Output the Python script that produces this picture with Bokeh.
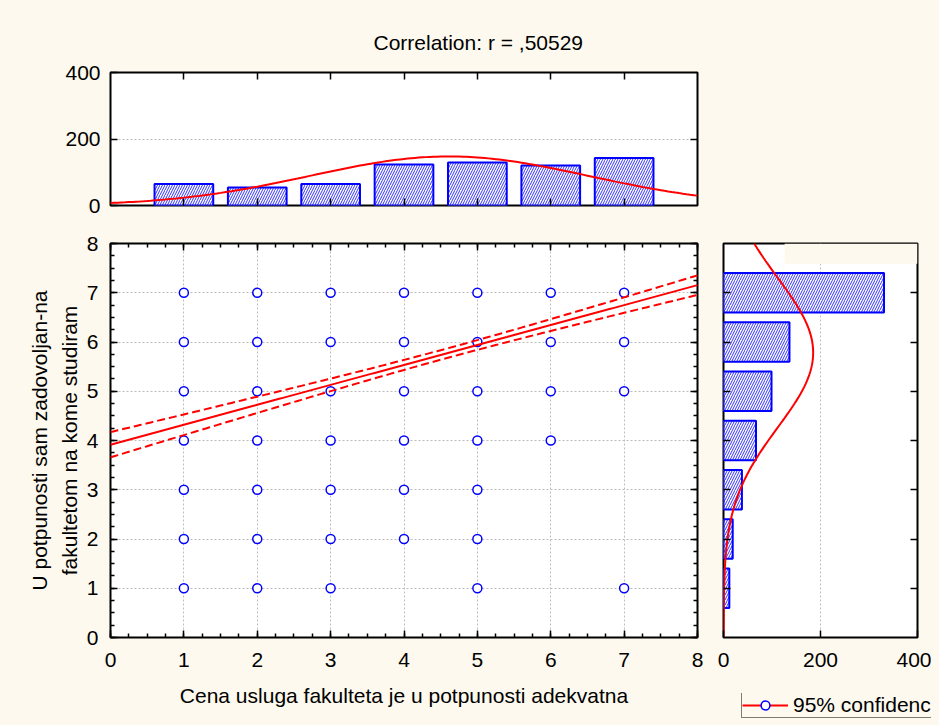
import numpy as np
from bokeh.plotting import figure
from bokeh.models import (Range1d, LinearAxis, FixedTicker, SingleIntervalTicker,
                          BoxAnnotation, Legend, LegendItem)
from bokeh.layouts import column, row
from bokeh.embed import file_html
from bokeh.resources import INLINE

# ---------------- data ----------------
title_text = "Correlation: r = ,50529"
x_label = "Cena usluga fakulteta je u potpunosti adekvatna"
y_label = "U potpunosti sam zadovoljan-na\nfakultetom na kome studiram"
legend_label = "95% confidence"
r_value = 0.50529

scale_values = [1, 2, 3, 4, 5, 6, 7]
x_counts = [65, 54, 65, 123, 129, 120, 143]      # histogram of x (top)
y_counts = [12, 19, 38, 67, 99, 136, 331]        # histogram of y (right)

points_x = [1, 2, 3, 4, 5, 6, 7,
            1, 2, 3, 4, 5, 6, 7,
            1, 2, 3, 4, 5, 6, 7,
            1, 2, 3, 4, 5, 6,
            1, 2, 3, 4, 5,
            1, 2, 3, 4, 5,
            1, 2, 3, 5, 7]
points_y = [7, 7, 7, 7, 7, 7, 7,
            6, 6, 6, 6, 6, 6, 6,
            5, 5, 5, 5, 5, 5, 5,
            4, 4, 4, 4, 4, 4,
            3, 3, 3, 3, 3,
            2, 2, 2, 2, 2,
            1, 1, 1, 1, 1]

# ---------------- derived fits ----------------
v = np.array(scale_values, dtype=float)
cx = np.array(x_counts, dtype=float)
cy = np.array(y_counts, dtype=float)
nx, ny = cx.sum(), cy.sum()
mx = (v * cx).sum() / nx
sx = np.sqrt((cx * (v - mx) ** 2).sum() / nx)
my = (v * cy).sum() / ny
sy = np.sqrt((cy * (v - my) ** 2).sum() / ny)

grid = np.linspace(0, 8, 161)
norm_top = nx / (sx * np.sqrt(2 * np.pi)) * np.exp(-0.5 * ((grid - mx) / sx) ** 2)
norm_right = ny / (sy * np.sqrt(2 * np.pi)) * np.exp(-0.5 * ((grid - my) / sy) ** 2)

slope = r_value * sy / sx
intercept = my - slope * mx
fit = intercept + slope * grid
resid_sd = sy * np.sqrt(1 - r_value ** 2) * np.sqrt(nx / (nx - 2))
sxx = nx * sx ** 2
half = 1.96 * resid_sd * np.sqrt(1.0 / nx + (grid - mx) ** 2 / sxx)
ci_hi = fit + half
ci_lo = fit - half

# ---------------- style ----------------
CREAM = "#FDF9EE"
BLUE = "#0000FF"
RED = "#FF0000"
FONT = "Liberation Sans"
FS = "21px"
GRID = "#BDBDBD"


def style_axis(ax, labels=True, minor=False):
    ax.major_tick_in = 7
    ax.major_tick_out = 0
    ax.minor_tick_in = 4 if minor else 0
    ax.minor_tick_out = 0
    ax.major_tick_line_color = "black"
    ax.major_tick_line_width = 1.5
    ax.minor_tick_line_color = "black" if minor else None
    ax.minor_tick_line_width = 1.5
    ax.axis_line_color = None
    ax.major_label_text_font = FONT
    if labels:
        ax.major_label_text_font_size = FS
        ax.major_label_text_color = "black"
    else:
        ax.major_label_text_font_size = "1px"
        ax.major_label_text_color = None
        ax.major_label_standoff = 0


def base_fig(**kw):
    return figure(output_backend="svg", toolbar_location=None,
                  border_fill_color=CREAM, background_fill_color="white",
                  outline_line_color="black", outline_line_width=2, **kw)


x_rng = Range1d(0, 8)
y_rng = Range1d(0, 8)

# ---------------- top histogram ----------------
top = base_fig(width=710, height=215, x_range=x_rng, y_range=Range1d(0, 400),
               min_border_left=110, min_border_right=13,
               min_border_top=72, min_border_bottom=10, title=title_text)
top.title.align = "left"
top.title.offset = 263
top.title.standoff = 38
top.title.text_font = FONT
top.title.text_font_size = FS
top.title.text_font_style = "normal"
top.title.text_color = "black"
top.xaxis.ticker = FixedTicker(ticks=scale_values)
style_axis(top.xaxis[0], labels=False)
top.yaxis.ticker = FixedTicker(ticks=[0, 200, 400])
style_axis(top.yaxis[0], labels=True)
top.yaxis.major_label_standoff = 10
ax = LinearAxis(ticker=FixedTicker(ticks=scale_values))
style_axis(ax, labels=False)
top.add_layout(ax, "above")
ax = LinearAxis(ticker=FixedTicker(ticks=[200]))
style_axis(ax, labels=False)
top.add_layout(ax, "right")
top.xgrid.visible = False
top.ygrid.ticker = FixedTicker(ticks=[200])
top.ygrid.grid_line_color = GRID
top.ygrid.grid_line_dash = "2 2"

top.vbar(x=scale_values, top=x_counts, width=0.8, bottom=0,
         fill_color="white", hatch_pattern="/", hatch_color=BLUE,
         hatch_scale=5, hatch_weight=1, hatch_alpha=0.8,
         line_color=BLUE, line_width=2)
top.line(grid, norm_top, line_color=RED, line_width=2)

# ---------------- main scatter ----------------
main = base_fig(width=710, height=510, x_range=x_rng, y_range=y_rng,
                min_border_left=110, min_border_right=13,
                min_border_top=28, min_border_bottom=88)
main.xaxis.ticker = SingleIntervalTicker(interval=1, num_minor_ticks=4)
main.yaxis.ticker = SingleIntervalTicker(interval=1, num_minor_ticks=4)
style_axis(main.xaxis[0], labels=True, minor=True)
style_axis(main.yaxis[0], labels=True, minor=True)
main.xaxis.major_label_standoff = 15
main.yaxis.major_label_standoff = 12
main.xaxis.axis_label = x_label
main.yaxis.axis_label = y_label
for a in (main.xaxis[0], main.yaxis[0]):
    a.axis_label_text_font = FONT
    a.axis_label_text_font_size = FS
    a.axis_label_text_font_style = "normal"
    a.axis_label_text_color = "black"
main.xaxis.axis_label_standoff = 14
main.yaxis.axis_label_standoff = 3
main.yaxis.axis_label_text_line_height = 1.3
for loc in ("above", "right"):
    ax = LinearAxis(ticker=SingleIntervalTicker(interval=1, num_minor_ticks=4))
    style_axis(ax, labels=False, minor=True)
    main.add_layout(ax, loc)
for g in (main.xgrid[0], main.ygrid[0]):
    g.ticker = SingleIntervalTicker(interval=1)
    g.grid_line_color = GRID
    g.grid_line_dash = "2 2"

main.scatter(points_x, points_y, marker="circle", size=9,
             line_color=BLUE, fill_color="white", line_width=1.5)
main.line(grid, fit, line_color=RED, line_width=2)
main.line(grid, ci_hi, line_color=RED, line_width=2, line_dash="8 4")
main.line(grid, ci_lo, line_color=RED, line_width=2, line_dash="8 4")

# ---------------- right histogram ----------------
right = base_fig(width=221, height=478, x_range=Range1d(0, 400), y_range=y_rng,
                 min_border_left=13, min_border_right=14,
                 min_border_top=28, min_border_bottom=56)
right.xaxis.ticker = FixedTicker(ticks=[0, 200, 400])
style_axis(right.xaxis[0], labels=True)
right.xaxis.major_label_standoff = 15
right.yaxis.ticker = FixedTicker(ticks=scale_values)
style_axis(right.yaxis[0], labels=False)
ax = LinearAxis(ticker=FixedTicker(ticks=scale_values))
style_axis(ax, labels=False)
right.add_layout(ax, "right")
right.ygrid.visible = False
right.xgrid.ticker = FixedTicker(ticks=[200])
right.xgrid.grid_line_color = GRID
right.xgrid.grid_line_dash = "2 2"

right.hbar(y=scale_values, right=y_counts, height=0.8, left=0,
           fill_color="white", hatch_pattern="/", hatch_color=BLUE,
           hatch_scale=5, hatch_weight=1, hatch_alpha=0.8,
           line_color=BLUE, line_width=2)
right.line(norm_right, grid, line_color=RED, line_width=2)
right.add_layout(BoxAnnotation(left=126, right=400, bottom=7.59, top=8,
                               fill_color=CREAM, fill_alpha=1, line_color=None,
                               level="overlay"))

# ---------------- legend strip ----------------
leg = figure(output_backend="svg", toolbar_location=None, width=221, height=32,
             x_range=Range1d(-20, -10), y_range=Range1d(-20, -10),
             x_axis_location=None, y_axis_location=None,
             min_border_left=13, min_border_right=0, min_border_top=0, min_border_bottom=0,
             border_fill_color=CREAM, background_fill_color=CREAM,
             outline_line_color=None)
leg.xgrid.visible = False
leg.ygrid.visible = False
# legend proxies: same series as the main panel, outside this strip's visible range
leg_line = leg.line(grid, fit, line_color=RED, line_width=2)
leg_dot = leg.scatter(points_x, points_y, marker="circle", size=9, line_color=BLUE,
                      fill_color="white", line_width=1.5)
legend = Legend(items=[LegendItem(label=legend_label, renderers=[leg_line, leg_dot])],
                location=(18, 7), margin=0, padding=0, spacing=0,
                glyph_width=46, glyph_height=22, label_height=22,
                label_standoff=5, label_text_font=FONT, label_text_font_size=FS,
                label_text_color="black",
                border_line_color="black", border_line_width=1.5,
                background_fill_color=CREAM, background_fill_alpha=1)
leg.add_layout(legend)

layout = column(top, row(main, column(right, row(leg, spacing=0), spacing=0), spacing=0),
                spacing=0)

html = file_html(layout, INLINE)
html = html.replace("</head>", "<style>body{background:%s;}</style></head>" % CREAM, 1)
open("out.html", "w").write(html)
